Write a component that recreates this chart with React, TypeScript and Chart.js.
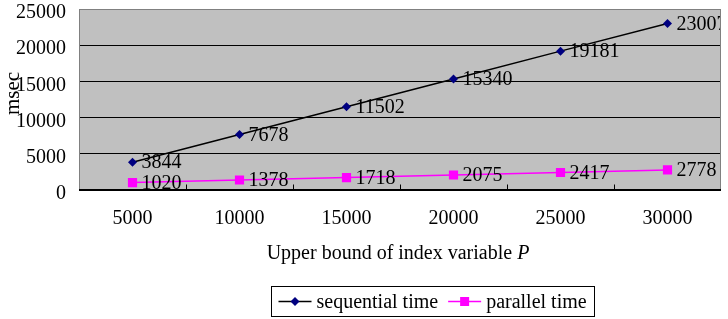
import React, { useEffect, useRef } from "react";
import { Chart, registerables } from "chart.js";
Chart.register(...registerables);

const categories = ["5000", "10000", "15000", "20000", "25000", "30000"];
const sequentialTime = [3844, 7678, 11502, 15340, 19181, 23007];
const parallelTime = [1020, 1378, 1718, 2075, 2417, 2778];
const seriesNames = ["sequential time", "parallel time"];
const xTitle = "Upper bound of index variable ";
const xTitleItalic = "P";
const yTitle = "msec";
const yMin = 0;
const yMax = 25000;
const yStep = 5000;

const FONT = "'Liberation Serif', 'Times New Roman', serif";
const FS = 20;
const SEQ_LINE = "#000000";
const SEQ_MARK = "#000080";
const PAR_COLOR = "#FF00FF";

const drawDiamond = (ctx: CanvasRenderingContext2D, x: number, y: number, r: number, c: string) => {
  ctx.beginPath();
  ctx.moveTo(x, y - r);
  ctx.lineTo(x + r, y);
  ctx.lineTo(x, y + r);
  ctx.lineTo(x - r, y);
  ctx.closePath();
  ctx.fillStyle = c;
  ctx.fill();
};

const plotPlugin = {
  id: "plotPlugin",
  beforeDraw(chart: any) {
    const { ctx, chartArea: a } = chart;
    ctx.save();
    ctx.fillStyle = "#C0C0C0";
    ctx.fillRect(a.left, a.top, a.right - a.left, a.bottom - a.top);
    ctx.restore();
  },
  beforeDatasetsDraw(chart: any) {
    const { ctx, chartArea: a } = chart;
    const xs = chart.scales.x;
    ctx.save();
    ctx.lineWidth = 1;
    ctx.strokeStyle = "#808080";
    ctx.beginPath();
    ctx.moveTo(Math.round(a.left) + 0.5, Math.round(a.bottom));
    ctx.lineTo(Math.round(a.left) + 0.5, Math.round(a.top) + 0.5);
    ctx.lineTo(Math.round(a.right) - 0.5, Math.round(a.top) + 0.5);
    ctx.lineTo(Math.round(a.right) - 0.5, Math.round(a.bottom));
    ctx.stroke();
    ctx.strokeStyle = "#000000";
    ctx.beginPath();
    const by = Math.round(a.bottom) - 0.5;
    ctx.moveTo(a.left, by);
    ctx.lineTo(a.right, by);
    const n = categories.length;
    const sp = xs.getPixelForValue(1) - xs.getPixelForValue(0);
    for (let i = 1; i < n; i++) {
      const x = Math.round(xs.getPixelForValue(i) - sp / 2) + 0.5;
      ctx.moveTo(x, by);
      ctx.lineTo(x, by - 5);
    }
    ctx.stroke();
    ctx.restore();
  },
  afterDatasetsDraw(chart: any) {
    const { ctx, chartArea: a } = chart;
    ctx.save();
    ctx.beginPath();
    ctx.rect(0, 0, a.right - 1, chart.height);
    ctx.clip();
    ctx.font = `${FS}px ${FONT}`;
    ctx.fillStyle = "#000000";
    ctx.textAlign = "left";
    ctx.textBaseline = "middle";
    chart.data.datasets.forEach((ds: any, di: number) => {
      const meta = chart.getDatasetMeta(di);
      meta.data.forEach((p: any, i: number) => {
        ctx.fillText(String(ds.data[i]), p.x + 9, p.y + 1);
      });
    });
    ctx.restore();
  },
  afterDraw(chart: any) {
    const { ctx, chartArea: a } = chart;
    ctx.save();
    ctx.fillStyle = "#000000";
    ctx.textBaseline = "middle";
    ctx.textAlign = "left";
    const f1 = `${FS}px ${FONT}`;
    const f2 = `italic ${FS}px ${FONT}`;

    // y-axis title
    ctx.save();
    ctx.translate(13, (a.top + a.bottom) / 2 - 6);
    ctx.rotate(-Math.PI / 2);
    ctx.textAlign = "center";
    ctx.font = `21px ${FONT}`;
    ctx.fillText(yTitle, 0, 0);
    ctx.restore();

    // x-axis title with italic P
    ctx.font = f1;
    const w1 = ctx.measureText(xTitle).width;
    ctx.font = f2;
    const w2 = ctx.measureText(xTitleItalic).width;
    const cx = (a.left + a.right) / 2 - 2;
    const ty = 254;
    const tx = cx - (w1 + w2) / 2;
    ctx.font = f1;
    ctx.fillText(xTitle, tx, ty);
    ctx.font = f2;
    ctx.fillText(xTitleItalic, tx + w1, ty);

    // legend
    ctx.font = f1;
    const t1 = ctx.measureText(seriesNames[0]).width;
    const t2 = ctx.measureText(seriesNames[1]).width;
    const lineW = 33, gap = 5, padL = 7, padR = 8, mid = 10;
    const boxW = padL + lineW + gap + t1 + mid + lineW + gap + t2 + padR;
    const boxCx = 433;
    const bx = Math.round(boxCx - boxW / 2) + 0.5;
    const bTop = 286.5, bH = 30;
    ctx.strokeStyle = "#000000";
    ctx.lineWidth = 1;
    ctx.strokeRect(bx, bTop, Math.round(boxW), bH);
    const ly = bTop + bH / 2;
    let x = bx + padL;
    ctx.strokeStyle = SEQ_LINE;
    ctx.lineWidth = 1.5;
    ctx.beginPath();
    ctx.moveTo(x, ly);
    ctx.lineTo(x + lineW, ly);
    ctx.stroke();
    drawDiamond(ctx, x + lineW / 2, ly, 4.5, SEQ_MARK);
    x += lineW + gap;
    ctx.fillStyle = "#000000";
    ctx.fillText(seriesNames[0], x, ly + 1);
    x += t1 + mid;
    ctx.strokeStyle = PAR_COLOR;
    ctx.beginPath();
    ctx.moveTo(x, ly);
    ctx.lineTo(x + lineW, ly);
    ctx.stroke();
    ctx.fillStyle = PAR_COLOR;
    ctx.fillRect(x + lineW / 2 - 4.5, ly - 4.5, 9, 9);
    x += lineW + gap;
    ctx.fillStyle = "#000000";
    ctx.fillText(seriesNames[1], x, ly + 1);
    ctx.restore();
  },
};

export default function App() {
  const ref = useRef<HTMLCanvasElement | null>(null);
  useEffect(() => {
    document.body.style.margin = "0";
    if (!ref.current) return;
    const chart = new Chart(ref.current, {
      type: "line",
      data: {
        labels: categories,
        datasets: [
          {
            label: seriesNames[0],
            data: sequentialTime,
            borderColor: SEQ_LINE,
            borderWidth: 1.5,
            pointStyle: "rectRot",
            pointRadius: 4.5,
            pointBorderWidth: 0,
            pointBackgroundColor: SEQ_MARK,
            pointBorderColor: SEQ_MARK,
            tension: 0,
            fill: false,
          },
          {
            label: seriesNames[1],
            data: parallelTime,
            borderColor: PAR_COLOR,
            borderWidth: 1.5,
            pointStyle: "rect",
            pointRadius: 6.5,
            pointBorderWidth: 0,
            pointBackgroundColor: PAR_COLOR,
            pointBorderColor: PAR_COLOR,
            tension: 0,
            fill: false,
          },
        ],
      },
      options: {
        responsive: false,
        animation: false,
        layout: { padding: { top: 9, right: 7, left: 0, bottom: 0 } },
        plugins: {
          legend: { display: false },
          tooltip: { enabled: false },
          title: { display: false },
        },
        scales: {
          x: {
            type: "category",
            offset: true,
            grid: { display: false, drawTicks: false },
            border: { display: false },
            ticks: {
              font: { family: FONT, size: FS, lineHeight: 1 },
              color: "#000000",
              padding: 19,
              maxRotation: 0,
              autoSkip: false,
            },
            afterFit: (s: any) => {
              s.height = 129;
              s.paddingLeft = 0;
              s.paddingRight = 0;
            },
          },
          y: {
            min: yMin,
            max: yMax,
            grid: {
              drawTicks: false,
              color: (c: any) => (c.tick && c.tick.value === yMax ? "#808080" : "#000000"),
              lineWidth: 1,
            },
            border: { display: false },
            ticks: {
              stepSize: yStep,
              font: { family: FONT, size: FS, lineHeight: 1 },
              color: "#000000",
              padding: 13,
              labelOffset: 4,
              callback: (v: any) => String(v),
            },
            title: { display: false },
            afterFit: (s: any) => {
              s.width = 79;
              s.paddingTop = 0;
              s.paddingBottom = 0;
            },
          },
        },
      },
      plugins: [plotPlugin],
    });
    return () => chart.destroy();
  }, []);
  return (
    <div style={{ width: 728, height: 319 }}>
      <canvas ref={ref} width={728} height={319} />
    </div>
  );
}
